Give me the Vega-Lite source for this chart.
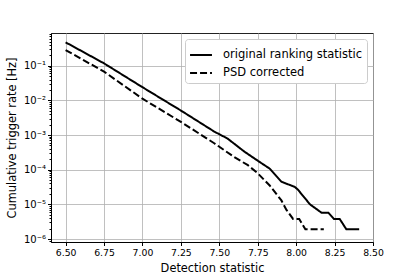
{
  "$schema": "https://vega.github.io/schema/vega-lite/v6.json",
  "autosize": {"type": "none"},
  "width": 322,
  "height": 209,
  "padding": {"left": 51, "top": 33, "right": 42, "bottom": 35},
  "background": "white",
  "config": {
    "font": "DejaVu Sans",
    "view": {"stroke": "#222", "strokeWidth": 1},
    "axis": {
      "labelFont": "DejaVu Sans",
      "titleFont": "DejaVu Sans",
      "labelFontSize": 9.3,
      "titleFontSize": 11.4,
      "titleFontWeight": "normal",
      "labelColor": "#000",
      "titleColor": "#000",
      "domainColor": "#000",
      "tickColor": "#000",
      "gridColor": "#b0b0b0",
      "gridWidth": 0.8
    }
  },
  "data": {
    "values": [
      {"x": 6.5, "rate": 0.474, "series": "original ranking statistic"},
      {"x": 6.75, "rate": 0.117, "series": "original ranking statistic"},
      {"x": 7.0, "rate": 0.024, "series": "original ranking statistic"},
      {"x": 7.25, "rate": 0.0051, "series": "original ranking statistic"},
      {"x": 7.467, "rate": 0.00126, "series": "original ranking statistic"},
      {"x": 7.554, "rate": 0.00079, "series": "original ranking statistic"},
      {"x": 7.664, "rate": 0.00033, "series": "original ranking statistic"},
      {"x": 7.75, "rate": 0.000182, "series": "original ranking statistic"},
      {"x": 7.828, "rate": 0.000107, "series": "original ranking statistic"},
      {"x": 7.904, "rate": 0.000045, "series": "original ranking statistic"},
      {"x": 7.99, "rate": 0.000032, "series": "original ranking statistic"},
      {"x": 8.01, "rate": 0.000027, "series": "original ranking statistic"},
      {"x": 8.09, "rate": 0.00001, "series": "original ranking statistic"},
      {"x": 8.166, "rate": 0.0000057, "series": "original ranking statistic"},
      {"x": 8.21, "rate": 0.0000057, "series": "original ranking statistic"},
      {"x": 8.246, "rate": 0.0000038, "series": "original ranking statistic"},
      {"x": 8.283, "rate": 0.0000038, "series": "original ranking statistic"},
      {"x": 8.327, "rate": 0.0000019, "series": "original ranking statistic"},
      {"x": 8.41, "rate": 0.0000019, "series": "original ranking statistic"},
      {"x": 6.5, "rate": 0.284, "series": "PSD corrected"},
      {"x": 6.75, "rate": 0.0676, "series": "PSD corrected"},
      {"x": 7.0, "rate": 0.0112, "series": "PSD corrected"},
      {"x": 7.25, "rate": 0.0024, "series": "PSD corrected"},
      {"x": 7.467, "rate": 0.00058, "series": "PSD corrected"},
      {"x": 7.598, "rate": 0.00023, "series": "PSD corrected"},
      {"x": 7.686, "rate": 0.000135, "series": "PSD corrected"},
      {"x": 7.75, "rate": 0.000079, "series": "PSD corrected"},
      {"x": 7.828, "rate": 0.000035, "series": "PSD corrected"},
      {"x": 7.904, "rate": 0.000013, "series": "PSD corrected"},
      {"x": 7.937, "rate": 0.0000069, "series": "PSD corrected"},
      {"x": 7.98, "rate": 0.0000038, "series": "PSD corrected"},
      {"x": 8.02, "rate": 0.0000038, "series": "PSD corrected"},
      {"x": 8.06, "rate": 0.0000019, "series": "PSD corrected"},
      {"x": 8.18, "rate": 0.0000019, "series": "PSD corrected"}
    ]
  },
  "mark": {"type": "line", "color": "black", "strokeWidth": 2, "clip": true},
  "encoding": {
    "x": {
      "field": "x",
      "type": "quantitative",
      "scale": {"domain": [6.405, 8.5], "nice": false, "zero": false},
      "axis": {
        "title": "Detection statistic",
        "values": [6.5, 6.75, 7.0, 7.25, 7.5, 7.75, 8.0, 8.25, 8.5],
        "format": ".2f",
        "tickSize": 3.5,
        "labelPadding": 3,
        "titlePadding": 5,
        "labelBound": false,
        "labelFlush": false,
        "labelOverlap": false
      }
    },
    "y": {
      "field": "rate",
      "type": "quantitative",
      "scale": {"type": "log", "domain": [8.2e-7, 0.88], "nice": false},
      "axis": {
        "title": "Cumulative trigger rate [Hz]",
        "values": [9e-7, 1e-6, 2e-6, 3e-6, 4e-6, 5e-6, 6e-6, 7e-6, 8e-6, 9e-6, 1e-5, 2e-5, 3e-5, 4e-5, 5e-5, 6e-5, 7e-5, 8e-5, 9e-5, 1e-4, 2e-4, 3e-4, 4e-4, 5e-4, 6e-4, 7e-4, 8e-4, 9e-4, 0.001, 0.002, 0.003, 0.004, 0.005, 0.006, 0.007, 0.008, 0.009, 0.01, 0.02, 0.03, 0.04, 0.05, 0.06, 0.07, 0.08, 0.09, 0.1, 0.2, 0.3, 0.4, 0.5, 0.6, 0.7, 0.8],
        "labelOverlap": false,
        "labelFontSize": 10,
        "labelExpr": "abs(log(datum.value)/LN10 - round(log(datum.value)/LN10)) < 0.001 ? '10' + ['⁻⁶','⁻⁵','⁻⁴','⁻³','⁻²','⁻¹','⁰'][round(log(datum.value)/LN10)+6] : ''",
        "gridOpacity": {"condition": {"test": "abs(log(datum.value)/LN10 - round(log(datum.value)/LN10)) < 0.001", "value": 1}, "value": 0},
        "tickSize": {"condition": {"test": "abs(log(datum.value)/LN10 - round(log(datum.value)/LN10)) < 0.001", "value": 3.5}, "value": 2},
        "labelPadding": 2,
        "titlePadding": 6
      }
    },
    "strokeDash": {
      "field": "series",
      "type": "nominal",
      "scale": {"domain": ["original ranking statistic", "PSD corrected"], "range": [[1, 0], [7, 3]]},
      "legend": {
        "title": null,
        "orient": "top-right",
        "offset": 6,
        "symbolType": "stroke",
        "symbolStrokeWidth": 2,
        "symbolStrokeColor": "black",
        "symbolSize": 480,
        "labelFontSize": 11.5,
        "labelFont": "DejaVu Sans",
        "labelColor": "#000",
        "labelOffset": 10,
        "rowPadding": 0,
        "padding": 4,
        "fillColor": "white",
        "strokeColor": "#cccccc",
        "cornerRadius": 3
      }
    }
  }
}
